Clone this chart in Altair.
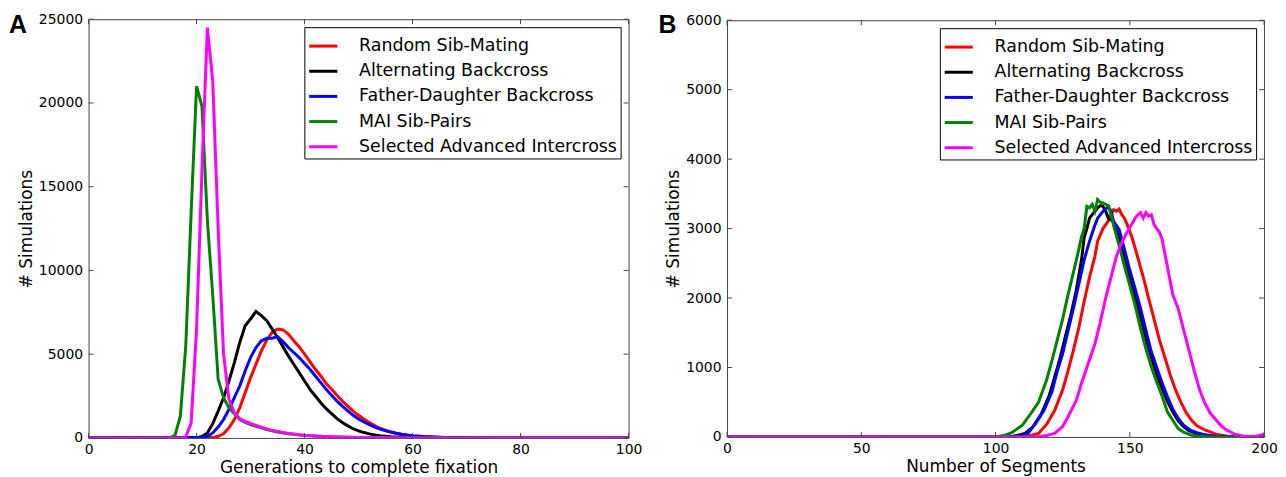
import altair as alt
import pandas as pd

# ---------------- data ----------------
SERIES = ["Random Sib-Mating", "Alternating Backcross", "Father-Daughter Backcross",
          "MAI Sib-Pairs", "Selected Advanced Intercross"]
COLORS = ["#ff0000", "#000000", "#0000ff", "#008000", "#ff00ff"]

# Panel A: generations to complete fixation
a_red_x = [0, 23, 24, 25, 26, 27, 28, 29, 30, 31, 32, 33, 34, 35, 36, 37, 38, 39, 40, 41, 42, 43, 44,
           45, 46, 47, 48, 49, 50, 51, 52, 53, 54, 55, 56, 57, 58, 59, 60, 62, 64, 66, 70, 75, 100]
a_red_y = [0, 20, 100, 250, 600, 1100, 1800, 2700, 3600, 4400, 5200, 5850, 6300, 6500, 6450, 6200,
           5800, 5450, 5000, 4550, 4100, 3700, 3250, 2900, 2550, 2200, 1900, 1600, 1350, 1120, 920,
           740, 580, 450, 350, 270, 210, 160, 120, 70, 40, 20, 5, 0, 0]

a_blk_x = [0, 20, 21, 22, 23, 24, 25, 26, 27, 28, 29, 30, 31, 32, 33, 34, 35, 36, 37, 38, 39, 40, 41,
           42, 43, 44, 45, 46, 47, 48, 49, 50, 51, 52, 53, 54, 55, 56, 58, 60, 65, 100]
a_blk_y = [0, 20, 90, 300, 850, 1600, 2400, 3400, 4500, 5700, 6700, 7100, 7550, 7300, 7000, 6500,
           6000, 5450, 4900, 4400, 3900, 3400, 2900, 2500, 2100, 1750, 1450, 1150, 920, 720, 550,
           420, 320, 240, 180, 130, 95, 65, 35, 15, 0, 0]

a_blu_x = [0, 21, 22, 23, 24, 25, 26, 27, 28, 29, 30, 31, 32, 33, 34, 35, 36, 37, 38, 39, 40, 41, 42,
           43, 44, 45, 46, 47, 48, 49, 50, 51, 52, 53, 54, 55, 56, 57, 58, 59, 60, 62, 64, 66, 70, 75, 100]
a_blu_y = [0, 20, 100, 300, 650, 1100, 1700, 2400, 3100, 4000, 4800, 5400, 5800, 5950, 5950, 6050,
           5750, 5400, 5100, 4800, 4450, 4100, 3700, 3300, 2900, 2550, 2200, 1900, 1620, 1350, 1130,
           950, 800, 650, 530, 430, 350, 280, 220, 170, 130, 80, 50, 30, 10, 0, 0]

a_grn_x = [0, 15, 16, 17, 18, 19, 20, 21, 22, 23, 24, 25, 26, 27, 28, 29, 30, 31, 32, 33, 34, 35, 37,
           40, 45, 50, 55, 100]
a_grn_y = [0, 0, 150, 1300, 5500, 13500, 21000, 19800, 13000, 8500, 3500, 2400, 1800, 1450, 1100,
           930, 800, 700, 600, 500, 420, 350, 250, 150, 60, 20, 0, 0]

a_mag_x = [0, 17, 18, 19, 20, 21, 22, 23, 24, 25, 26, 27, 28, 29, 30, 31, 32, 33, 34, 35, 36, 37, 38,
           39, 40, 42, 45, 50, 55, 60, 100]
a_mag_y = [0, 0, 50, 900, 6500, 16000, 24500, 21300, 12500, 5000, 2300, 1500, 1150, 980, 860, 750,
           640, 540, 450, 380, 320, 270, 230, 190, 160, 115, 70, 30, 10, 0, 0]

# Panel B: number of segments
b_red_x = [0, 110, 113, 116, 119, 122, 125, 127, 129, 131, 133, 135, 137, 138, 140, 142, 143, 144,
           145, 146, 147, 148, 149, 151, 153, 155, 157, 159, 161, 163, 165, 167, 169, 171, 173, 175,
           178, 182, 186, 192, 200]
b_red_y = [0, 0, 20, 50, 180, 380, 680, 950, 1250, 1570, 1950, 2300, 2600, 2820, 3000, 3110, 3200,
           3270, 3250, 3280, 3200, 3150, 3060, 2850, 2580, 2300, 2000, 1700, 1400, 1150, 900, 680,
           500, 350, 240, 160, 100, 40, 15, 0, 0]

b_blk_x = [0, 105, 108, 111, 114, 117, 120, 122, 124, 126, 128, 130, 132, 133, 134, 135, 136, 137,
           138, 139, 140, 141, 142, 144, 146, 148, 150, 152, 154, 156, 158, 160, 162, 164, 166, 168,
           170, 172, 175, 180, 185, 200]
b_blk_y = [0, 0, 20, 50, 150, 330, 600, 860, 1130, 1450, 1750, 2100, 2550, 2870, 3000, 3150, 3200,
           3250, 3300, 3330, 3320, 3250, 3150, 3100, 2850, 2560, 2300, 2030, 1720, 1420, 1150, 900,
           700, 510, 360, 230, 150, 90, 50, 10, 0, 0]

b_blu_x = [0, 107, 110, 112, 115, 118, 121, 123, 125, 127, 129, 131, 133, 135, 137, 138, 140, 141,
           142, 143, 144, 146, 148, 150, 152, 154, 156, 158, 160, 162, 164, 166, 168, 170, 172, 175,
           178, 182, 188, 200]
b_blu_y = [0, 0, 20, 50, 200, 380, 650, 950, 1200, 1530, 1850, 2200, 2550, 2820, 3050, 3150, 3250,
           3280, 3320, 3250, 3100, 2990, 2700, 2400, 2130, 1850, 1530, 1230, 1000, 780, 580, 400,
           270, 170, 110, 60, 30, 10, 0, 0]

b_grn_x = [0, 100, 103, 106, 110, 113, 116, 119, 121, 123, 125, 127, 129, 131, 132, 133, 134, 135,
           136, 137, 138, 139, 140, 141, 142, 143, 144, 146, 148, 150, 152, 154, 156, 158, 160, 162,
           164, 166, 168, 170, 173, 176, 180, 200]
b_grn_y = [0, 0, 20, 60, 170, 330, 500, 820, 1100, 1400, 1700, 2050, 2370, 2700, 2880, 3000, 3320,
           3300, 3350, 3250, 3420, 3380, 3370, 3350, 3330, 3200, 3040, 2760, 2460, 2180, 1890, 1560,
           1270, 1010, 790, 590, 360, 240, 120, 70, 25, 10, 0, 0]

b_mag_x = [0, 115, 119, 122, 125, 127, 130, 132, 134, 137, 139, 141, 143, 145, 147, 149, 151, 152,
           153, 154, 155, 156, 157, 158, 159, 160, 161, 162, 163, 164, 165, 166, 168, 170, 172, 174,
           176, 178, 180, 182, 184, 186, 189, 192, 196, 200]
b_mag_y = [0, 0, 20, 50, 150, 290, 520, 770, 1000, 1340, 1650, 2000, 2300, 2600, 2800, 2950, 3080,
           3150, 3200, 3230, 3150, 3230, 3180, 3200, 3060, 3000, 2950, 2850, 2650, 2450, 2250, 2050,
           1850, 1550, 1250, 950, 680, 480, 340, 250, 160, 100, 40, 15, 0, 40]

a_xticks = [0, 20, 40, 60, 80, 100]
a_yticks = [0, 5000, 10000, 15000, 20000, 25000]
b_xticks = [0, 50, 100, 150, 200]
b_yticks = [0, 1000, 2000, 3000, 4000, 5000, 6000]


def long_df(pairs):
    rows = []
    for name, xs, ys in pairs:
        for x, y in zip(xs, ys):
            rows.append({"series": name, "x": x, "y": y})
    return pd.DataFrame(rows)


df_a = long_df([(SERIES[0], a_red_x, a_red_y), (SERIES[1], a_blk_x, a_blk_y),
                (SERIES[2], a_blu_x, a_blu_y), (SERIES[3], a_grn_x, a_grn_y),
                (SERIES[4], a_mag_x, a_mag_y)])
df_b = long_df([(SERIES[0], b_red_x, b_red_y), (SERIES[1], b_blk_x, b_blk_y),
                (SERIES[2], b_blu_x, b_blu_y), (SERIES[3], b_grn_x, b_grn_y),
                (SERIES[4], b_mag_x, b_mag_y)])

FONT = "DejaVu Sans"
FRAME = "#444444"
TICK = 5


def panel(df, xtitle, xdom, ydom, xticks, yticks, W, H, letter, lx, ly):
    xs = alt.Scale(domain=xdom, nice=False, zero=False)
    ys = alt.Scale(domain=ydom, nice=False, zero=False)
    xax = alt.Axis(values=xticks, title=xtitle, ticks=False, domain=False, grid=False,
                   labelFlush=False, labelOverlap=False, labelPadding=5, titlePadding=3,
                   format="d")
    yax = alt.Axis(values=yticks, title="# Simulations", ticks=False, domain=False, grid=False,
                   labelFlush=False, labelOverlap=False, labelPadding=6, titlePadding=3,
                   format="d")
    lines = alt.Chart(df).mark_line(strokeWidth=3, clip=True).encode(
        x=alt.X("x:Q", scale=xs, axis=xax, title=xtitle),
        y=alt.Y("y:Q", scale=ys, axis=yax, title="# Simulations"),
        color=alt.Color("series:N", sort=SERIES,
                        scale=alt.Scale(domain=SERIES, range=COLORS),
                        legend=alt.Legend(
                            title=None, orient="top-right", offset=8,
                            labelFont=FONT, labelFontSize=17.5, labelColor="black",
                            symbolType="stroke", symbolSize=800, symbolStrokeWidth=3,
                            strokeColor="black", fillColor="white", padding=3,
                            rowPadding=0.3, labelOffset=20, labelLimit=400)),
    )
    xt = pd.DataFrame({"x": xticks})
    yt = pd.DataFrame({"y": yticks})
    xb = alt.Chart(xt).mark_rule(color=FRAME, strokeWidth=1).encode(
        x=alt.X("x:Q", scale=xs, axis=xax, title=xtitle), y=alt.value(H), y2=alt.value(H - TICK))
    xtp = alt.Chart(xt).mark_rule(color=FRAME, strokeWidth=1).encode(
        x=alt.X("x:Q", scale=xs, axis=xax, title=xtitle), y=alt.value(0), y2=alt.value(TICK))
    yl = alt.Chart(yt).mark_rule(color=FRAME, strokeWidth=1).encode(
        y=alt.Y("y:Q", scale=ys, axis=yax, title="# Simulations"), x=alt.value(0), x2=alt.value(TICK))
    yr = alt.Chart(yt).mark_rule(color=FRAME, strokeWidth=1).encode(
        y=alt.Y("y:Q", scale=ys, axis=yax, title="# Simulations"), x=alt.value(W), x2=alt.value(W - TICK))
    lab = alt.Chart(pd.DataFrame({"t": [letter]})).mark_text(
        align="left", baseline="alphabetic", fontSize=25, fontWeight="bold",
        font="Liberation Sans", color="black").encode(
        text="t:N", x=alt.value(lx), y=alt.value(ly))
    return alt.layer(lines, xb, xtp, yl, yr, lab).properties(width=W, height=H)


pa = panel(df_a, "Generations to complete fixation", [0, 100], [0, 25000],
           a_xticks, a_yticks, 543, 421, "A", -80, 14)
pb = panel(df_b, "Number of Segments", [0, 200], [0, 6000],
           b_xticks, b_yticks, 540, 419, "B", -69, 13)

chart = alt.hconcat(pa, pb, spacing=99, bounds="flush", center=True).resolve_scale(
    color="independent", x="independent", y="independent"
).resolve_legend(color="independent").configure(
    padding={"left": 0, "top": 2, "right": 0, "bottom": 0},
    background="white",
).configure_view(
    stroke=FRAME, strokeWidth=1
).configure_axis(
    labelFont=FONT, labelFontSize=14, labelColor="black",
    titleFont=FONT, titleFontSize=17, titleFontWeight="normal", titleColor="black",
)

chart.save("out.html", embed_options={"renderer": "svg", "actions": False})
